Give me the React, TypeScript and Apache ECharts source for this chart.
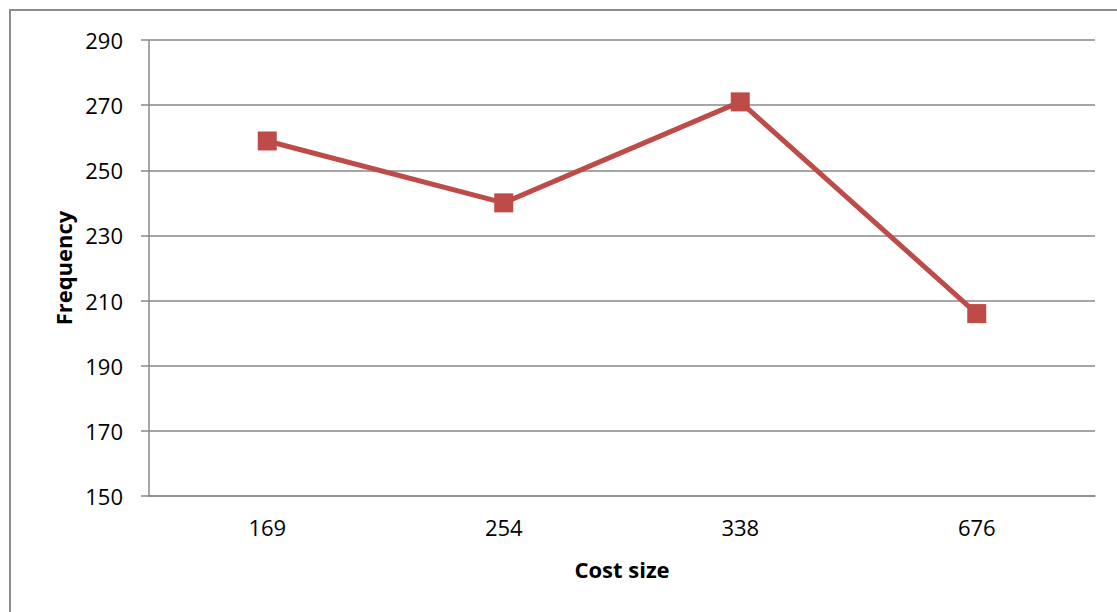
import React, { useEffect, useRef } from "react";
import * as echarts from "echarts";

// Cost size categories and the observed frequency for each
const costSizes = ["169", "254", "338", "676"];
const frequency = [259, 240, 271, 206];

// Frequency axis range and step
const yMin = 150;
const yMax = 290;
const yStep = 20;

const FONT = "'Open Sans', 'Noto Sans', sans-serif";
const GRID_GRAY = "#898989";

export default function App() {
  const ref = useRef<HTMLDivElement>(null);

  useEffect(() => {
    if (!ref.current) return;
    const chart = echarts.init(ref.current, null, { renderer: "svg" });
    chart.setOption({
      animation: false,
      backgroundColor: "#ffffff",
      grid: { left: 149, top: 40, right: 22, bottom: 116, containLabel: false },
      graphic: [
        {
          type: "rect",
          shape: { x: 10, y: 10, width: 1200, height: 700 },
          style: { fill: "none", stroke: "#8c8c8c", lineWidth: 2 },
          silent: true,
        },
      ],
      xAxis: {
        type: "category",
        data: costSizes,
        boundaryGap: true,
        name: "Cost size",
        nameLocation: "middle",
        nameGap: 62,
        nameTextStyle: { fontFamily: FONT, fontWeight: "bold", fontSize: 22, color: "#000" },
        axisLine: { show: true, lineStyle: { color: GRID_GRAY, width: 1.5 } },
        axisTick: { show: false },
        axisLabel: { fontFamily: FONT, fontSize: 22, color: "#000", margin: 20 },
        splitLine: { show: false },
      },
      yAxis: {
        type: "value",
        min: yMin,
        max: yMax,
        interval: yStep,
        name: "Frequency",
        nameLocation: "middle",
        nameRotate: 90,
        nameGap: 75,
        nameTextStyle: { fontFamily: FONT, fontWeight: "bold", fontSize: 22, color: "#000" },
        axisLine: { show: true, lineStyle: { color: GRID_GRAY, width: 1.5 } },
        axisTick: { show: true, length: 8, lineStyle: { color: GRID_GRAY, width: 1.5 } },
        axisLabel: { fontFamily: FONT, fontSize: 22, color: "#000", margin: 26 },
        splitLine: { show: true, lineStyle: { color: GRID_GRAY, width: 1.5 } },
      },
      series: [
        {
          type: "line",
          data: frequency,
          symbol: "rect",
          symbolSize: 19,
          lineStyle: { color: "#BE4B48", width: 5 },
          itemStyle: { color: "#BE4B48" },
          z: 3,
        },
      ],
    });
    return () => chart.dispose();
  }, []);

  return (
    <div
      ref={ref}
      style={{ position: "absolute", left: 0, top: 0, width: 1117, height: 612 }}
    />
  );
}
